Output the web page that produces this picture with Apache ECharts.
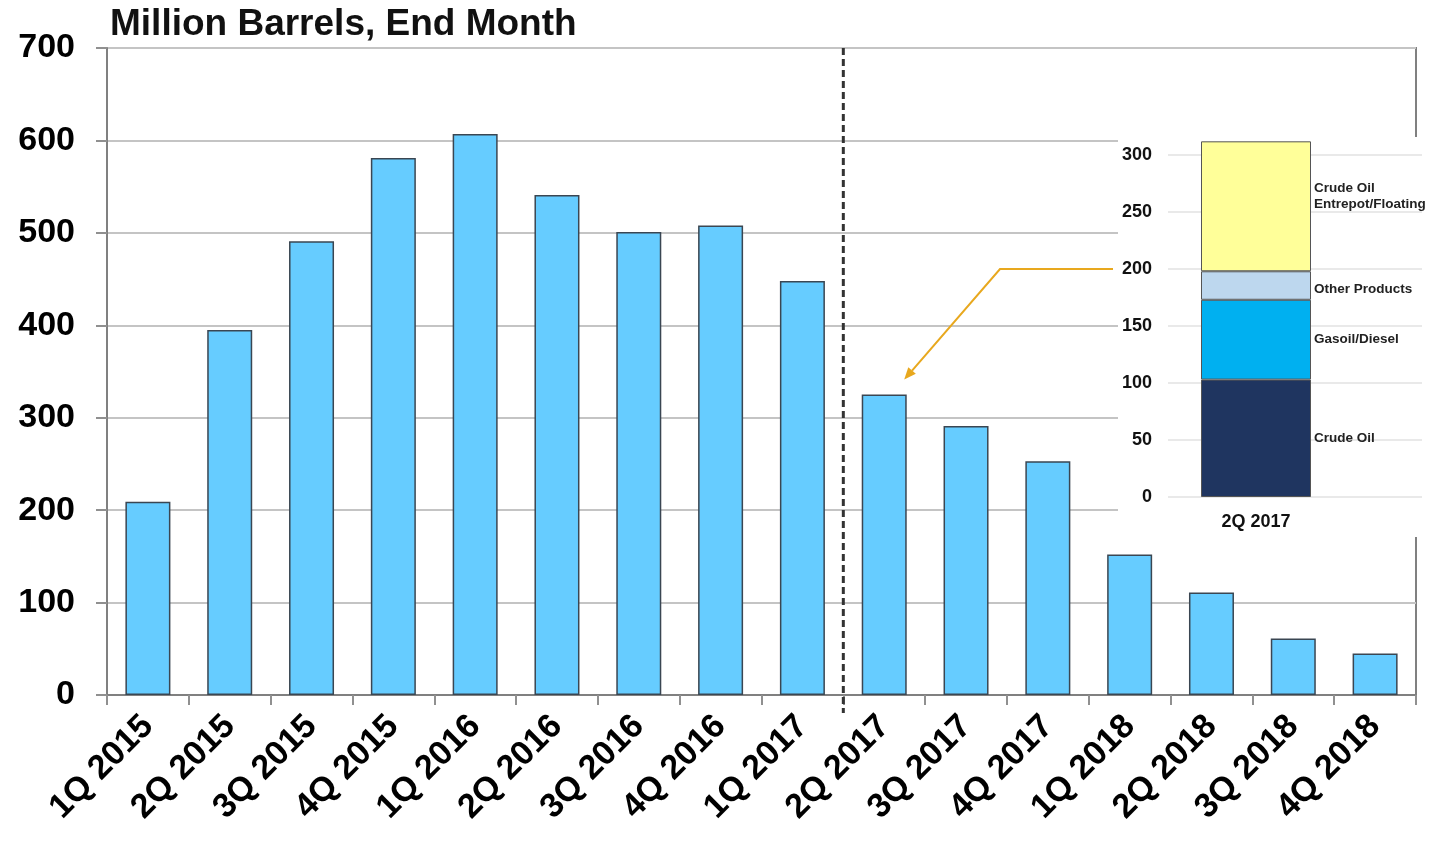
<!DOCTYPE html>
<html><head><meta charset="utf-8">
<script src="https://cdn.jsdelivr.net/npm/echarts@6/dist/echarts.min.js"></script>
<style>html,body{margin:0;padding:0;background:#fff}#c{width:1433px;height:844px}</style>
</head><body><div id="c"></div>
<script>
const titleText = 'Million Barrels, End Month';
const quarters = ['1Q 2015','2Q 2015','3Q 2015','4Q 2015','1Q 2016','2Q 2016','3Q 2016','4Q 2016','1Q 2017','2Q 2017','3Q 2017','4Q 2017','1Q 2018','2Q 2018','3Q 2018','4Q 2018'];
const inventory = [209, 395, 491, 581, 607, 541, 501, 508, 448, 325, 291, 253, 152, 111, 61, 45];
const yTicks = [0, 100, 200, 300, 400, 500, 600, 700];

const insetCategory = ['2Q 2017'];
const insetNames = ['Crude Oil', 'Gasoil/Diesel', 'Other Products', 'Crude Oil\nEntrepot/Floating'];
const crudeOil = [103];
const gasoilDiesel = [70];
const otherProducts = [25];
const crudeEntrepot = [114];
const insetTicks = [0, 50, 100, 150, 200, 250, 300];

const FONT = 'Liberation Sans, Arial, sans-serif';
const chart = echarts.init(document.getElementById('c'));

const insetColors = ['#1F3560', '#00B0F0', '#BDD7EE', '#FFFF99'];
const insetData = [crudeOil, gasoilDiesel, otherProducts, crudeEntrepot];
const labelOffsets = [[0, 0], [0, 0], [0, 4], [0, -10]];

const insetSeries = insetData.map((d, i) => ({
  type: 'bar', name: insetNames[i], stack: 'inset',
  xAxisIndex: 2, yAxisIndex: 2, data: d, barWidth: 110, clip: false, z: 10,
  itemStyle: { color: insetColors[i], borderColor: '#555', borderWidth: 1 },
  label: {
    show: true, position: 'right', distance: 3, formatter: () => insetNames[i],
    fontFamily: FONT, fontWeight: 'bold', fontSize: 13.5, color: '#222', lineHeight: 16,
    offset: labelOffsets[i]
  }
}));

chart.setOption({
  animation: false,
  backgroundColor: '#fff',
  title: { text: titleText, left: 105, top: 1, textStyle: { fontFamily: FONT, fontWeight: 'bold', fontSize: 37, color: '#111' } },
  grid: [
    { left: 107, right: 17, top: 48, bottom: 149, show: true, borderColor: '#808080', borderWidth: 2, backgroundColor: 'transparent' },
    { left: 1168, right: 11, top: 155, bottom: 347 },
    { left: 1168, width: 176, top: 155, bottom: 347 }
  ],
  xAxis: [
    { type: 'category', gridIndex: 0, data: quarters,
      axisLine: { lineStyle: { color: '#808080', width: 2 } },
      axisTick: { show: true, length: 10, lineStyle: { color: '#909090', width: 2 } },
      axisLabel: { rotate: 45, margin: 26, fontFamily: FONT, fontWeight: 'bold', fontSize: 34, color: '#000', interval: 0 } },
    { type: 'category', gridIndex: 1, data: [''], show: false },
    { type: 'category', gridIndex: 2, data: insetCategory, z: 10,
      axisLine: { show: false }, axisTick: { show: false },
      axisLabel: { margin: 16, fontFamily: FONT, fontWeight: 'bold', fontSize: 18, color: '#111' } }
  ],
  yAxis: [
    { type: 'value', gridIndex: 0, min: yTicks[0], max: yTicks[yTicks.length - 1], interval: 100,
      axisLine: { show: true, lineStyle: { color: '#808080', width: 2 } },
      axisTick: { show: true, length: 11, lineStyle: { color: '#909090', width: 2 } },
      splitLine: { lineStyle: { color: '#c4c4c4', width: 2 } },
      axisLabel: { margin: 32, fontFamily: FONT, fontWeight: 'bold', fontSize: 34, color: '#000' } },
    { type: 'value', gridIndex: 1, min: insetTicks[0], max: insetTicks[insetTicks.length - 1], interval: 50, z: 10,
      axisLine: { show: false }, axisTick: { show: false },
      splitLine: { lineStyle: { color: '#e2e2e2', width: 1.5 } },
      axisLabel: { margin: 16, fontFamily: FONT, fontWeight: 'bold', fontSize: 18, color: '#111' } },
    { type: 'value', gridIndex: 2, min: insetTicks[0], max: insetTicks[insetTicks.length - 1], show: false }
  ],
  series: [
    { type: 'bar', name: 'Inventory', xAxisIndex: 0, yAxisIndex: 0, data: inventory, barWidth: 45, z: 2,
      itemStyle: { color: '#66CCFF', borderColor: '#3A4652', borderWidth: 1.5 } },
    ...insetSeries
  ]
});

// overlay: white inset panel, divider line, arrow (positions derived from axes)
const p = (xi, yi, x, y) => chart.convertToPixel({ xAxisIndex: xi, yAxisIndex: yi }, [x, y]);
const c8 = p(0, 0, quarters[8], 0), c9 = p(0, 0, quarters[9], 0);
const divX = (c8[0] + c9[0]) / 2;
const yTop = p(0, 0, quarters[0], yTicks[yTicks.length - 1])[1];
const yZero = c8[1];
const y200 = chart.convertToPixel({ yAxisIndex: 1 }, 200);
const gridLeftInset = chart.convertToPixel({ xAxisIndex: 1 }, '') - (chart.getWidth() - 11 - 1168) / 2;
const barTop = p(0, 0, quarters[9], inventory[9]);
const tip = [barTop[0] + 20, barTop[1] - 15];
const start = [gridLeftInset - 55, y200];
const knee = [start[0] - 113, y200];
const dx = tip[0] - knee[0], dy = tip[1] - knee[1], L = Math.hypot(dx, dy);
const ux = dx / L, uy = dy / L;
const ah = 12, aw = 5;
const base = [tip[0] - ux * ah, tip[1] - uy * ah];

chart.setOption({
  graphic: [
    { type: 'rect', z: 5, shape: { x: gridLeftInset - 50, y: 137, width: 320, height: 400 }, style: { fill: '#fff' } },
    { type: 'line', z: 6, shape: { x1: divX, y1: yTop, x2: divX, y2: yZero + 18 }, style: { stroke: '#333', lineWidth: 3, lineDash: [7, 4] } },
    { type: 'polyline', z: 20, shape: { points: [start, knee, base] }, style: { stroke: '#E8A81E', lineWidth: 2, fill: null } },
    { type: 'polygon', z: 20, shape: { points: [tip, [base[0] - uy * aw, base[1] + ux * aw], [base[0] + uy * aw, base[1] - ux * aw]] }, style: { fill: '#E8A81E' } }
  ]
});
</script></body></html>
